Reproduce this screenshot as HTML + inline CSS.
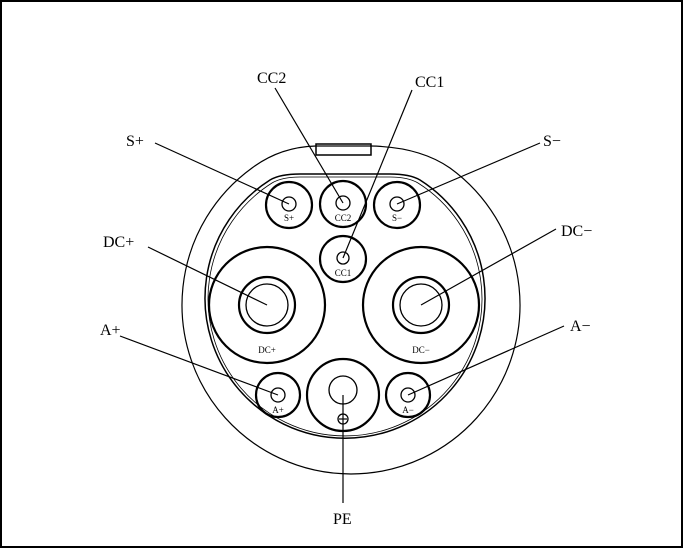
<!DOCTYPE html>
<html><head><meta charset="utf-8"><style>
html,body{margin:0;padding:0;background:#fff}
svg{display:block}
text{font-family:"Liberation Serif",serif;fill:#000}
</style></head><body>
<svg width="683" height="548" viewBox="0 0 683 548" xmlns="http://www.w3.org/2000/svg">
<rect x="1" y="1" width="681" height="546" fill="none" stroke="#000" stroke-width="2"/>
<g fill="none" stroke="#000">
<!-- outer shell -->
<path d="M252,168 Q280,147 316,146 L371,146 Q420,147 450,168 A169,169 0 1 1 252,168 Z" stroke-width="1.2"/>
<rect x="316" y="144" width="55" height="11" stroke-width="1.5"/>
<!-- inner double outline -->
<path d="M270,180 Q280,174 300,174 L390,174 Q410,174 420,180 A140,140 0 1 1 270,180 Z" stroke-width="1.5"/>
<path d="M272,183 Q282,177 300,177 L390,177 Q408,177 418,183 A137,137 0 1 1 272,183 Z" stroke-width="0.8"/>
<!-- pins -->
<g stroke-width="2.2">
<circle cx="289" cy="205" r="23"/><circle cx="343" cy="204" r="23"/><circle cx="397" cy="205" r="23"/>
<circle cx="343" cy="259" r="23"/>
<circle cx="267" cy="305" r="58"/><circle cx="421" cy="305" r="58"/>
<circle cx="267" cy="305" r="28"/><circle cx="421" cy="305" r="28"/>
<circle cx="278" cy="395" r="22"/><circle cx="408" cy="395" r="22"/>
<circle cx="343" cy="395" r="36"/>
</g>
<g stroke-width="1.3">
<circle cx="289" cy="204" r="7"/><circle cx="343" cy="203" r="7"/><circle cx="397" cy="204" r="7"/>
<circle cx="343" cy="258" r="6"/>
<circle cx="267" cy="305" r="21"/><circle cx="421" cy="305" r="21"/>
<circle cx="278" cy="395" r="7"/><circle cx="408" cy="395" r="7"/>
<circle cx="343" cy="390" r="14"/>
<circle cx="343" cy="419" r="5"/>
</g>
<!-- leader lines -->
<g stroke-width="1.2">
<line x1="155" y1="143" x2="289" y2="204"/>
<line x1="275" y1="88" x2="343" y2="203"/>
<line x1="412" y1="90" x2="343" y2="258"/>
<line x1="540" y1="143" x2="397" y2="204"/>
<line x1="148" y1="247" x2="267" y2="305"/>
<line x1="556" y1="229" x2="421" y2="305"/>
<line x1="120" y1="336" x2="278" y2="395"/>
<line x1="564" y1="326" x2="408" y2="395"/>
<line x1="343" y1="395" x2="343" y2="503"/>
<line x1="339" y1="419" x2="347" y2="419"/>
</g>
</g>
<g font-size="16">
<text x="126" y="146">S+</text>
<text x="257" y="83">CC2</text>
<text x="415" y="87">CC1</text>
<text x="543" y="146">S−</text>
<text x="103" y="247">DC+</text>
<text x="561" y="236">DC−</text>
<text x="100" y="335">A+</text>
<text x="570" y="331">A−</text>
<text x="333" y="524">PE</text>
</g>
<g font-size="9" text-anchor="middle">
<text x="289" y="221">S+</text>
<text x="343" y="221">CC2</text>
<text x="397" y="221">S−</text>
<text x="343" y="276">CC1</text>
<text x="267" y="353">DC+</text>
<text x="421" y="353">DC−</text>
<text x="278" y="413">A+</text>
<text x="408" y="413">A−</text>
</g>
</svg>
</body></html>
